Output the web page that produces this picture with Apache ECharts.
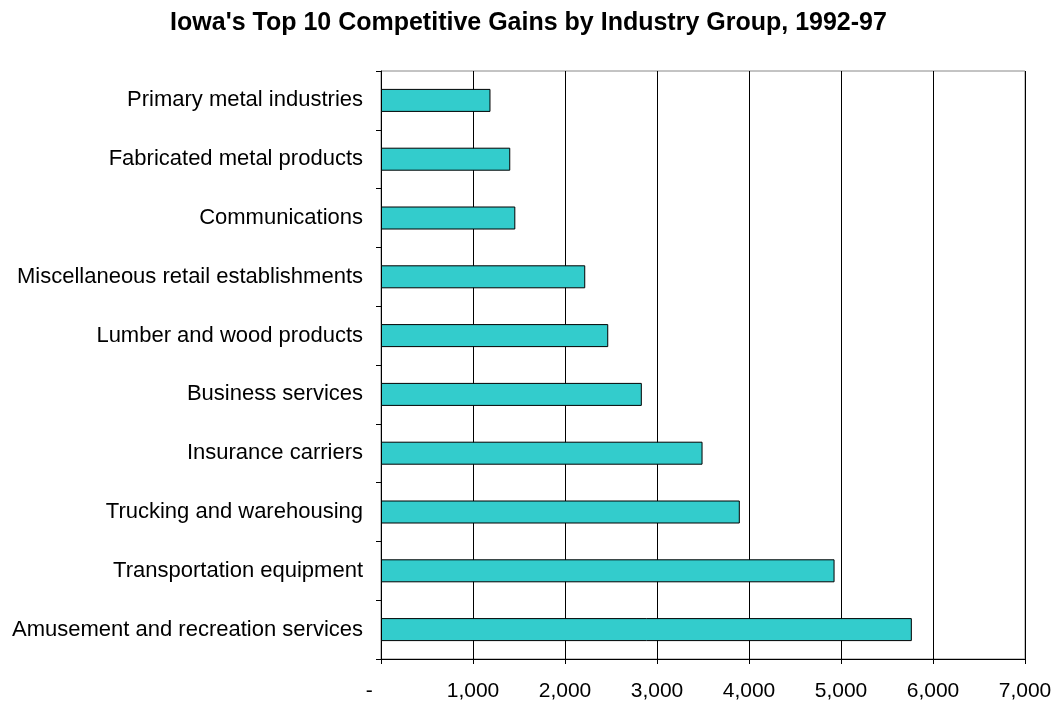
<!DOCTYPE html>
<html>
<head>
<meta charset="utf-8">
<script src="https://cdn.jsdelivr.net/npm/echarts@6/dist/echarts.min.js"></script>
<style>
  html, body { margin: 0; padding: 0; background: #fff; }
  #chart { width: 1057px; height: 704px; }
</style>
</head>
<body>
<div id="chart"></div>
<script>
// industry groups, top to bottom as shown
const industries = [
  'Primary metal industries',
  'Fabricated metal products',
  'Communications',
  'Miscellaneous retail establishments',
  'Lumber and wood products',
  'Business services',
  'Insurance carriers',
  'Trucking and warehousing',
  'Transportation equipment',
  'Amusement and recreation services'
];
const gains = [1190, 1405, 1460, 2220, 2470, 2835, 3495, 3900, 4930, 5770];
const xTicks = { min: 0, max: 7000, step: 1000 };

const chart = echarts.init(document.getElementById('chart'));

chart.setOption({
  backgroundColor: '#fff',
  animation: false,
  title: {
    text: "Iowa's Top 10 Competitive Gains by Industry Group, 1992-97",
    left: 'center',
    top: 6,
    textStyle: {
      fontFamily: 'Liberation Sans, Arial, sans-serif',
      fontSize: 25,
      fontWeight: 'bold',
      color: '#000'
    }
  },
  grid: {
    left: 381,
    right: 32,
    top: 71,
    bottom: 45,
    show: true,
    borderColor: '#888',
    borderWidth: 1
  },
  xAxis: {
    type: 'value',
    min: xTicks.min,
    max: xTicks.max,
    interval: xTicks.step,
    axisLine: { show: true, lineStyle: { color: '#000' } },
    axisTick: { show: true, length: 5, lineStyle: { color: '#000' } },
    splitLine: { show: true, lineStyle: { color: '#000', width: 1 } },
    axisLabel: {
      margin: 22,
      fontFamily: 'Liberation Sans, Arial, sans-serif',
      fontSize: 21,
      color: '#000',
      formatter: function (v) {
        return v === 0 ? '-    ' : v.toLocaleString('en-US');
      }
    }
  },
  yAxis: {
    type: 'category',
    data: industries,
    inverse: true,
    axisLine: { show: true, lineStyle: { color: '#000' } },
    axisTick: { show: true, length: 5, lineStyle: { color: '#000' } },
    splitLine: { show: false },
    axisLabel: {
      margin: 18,
      fontFamily: 'Liberation Sans, Arial, sans-serif',
      fontSize: 22,
      color: '#000'
    }
  },
  series: [
    {
      type: 'bar',
      data: gains,
      barWidth: 23,
      itemStyle: {
        color: '#33CCCC',
        borderColor: '#000',
        borderWidth: 1
      }
    }
  ]
});
</script>
</body>
</html>
